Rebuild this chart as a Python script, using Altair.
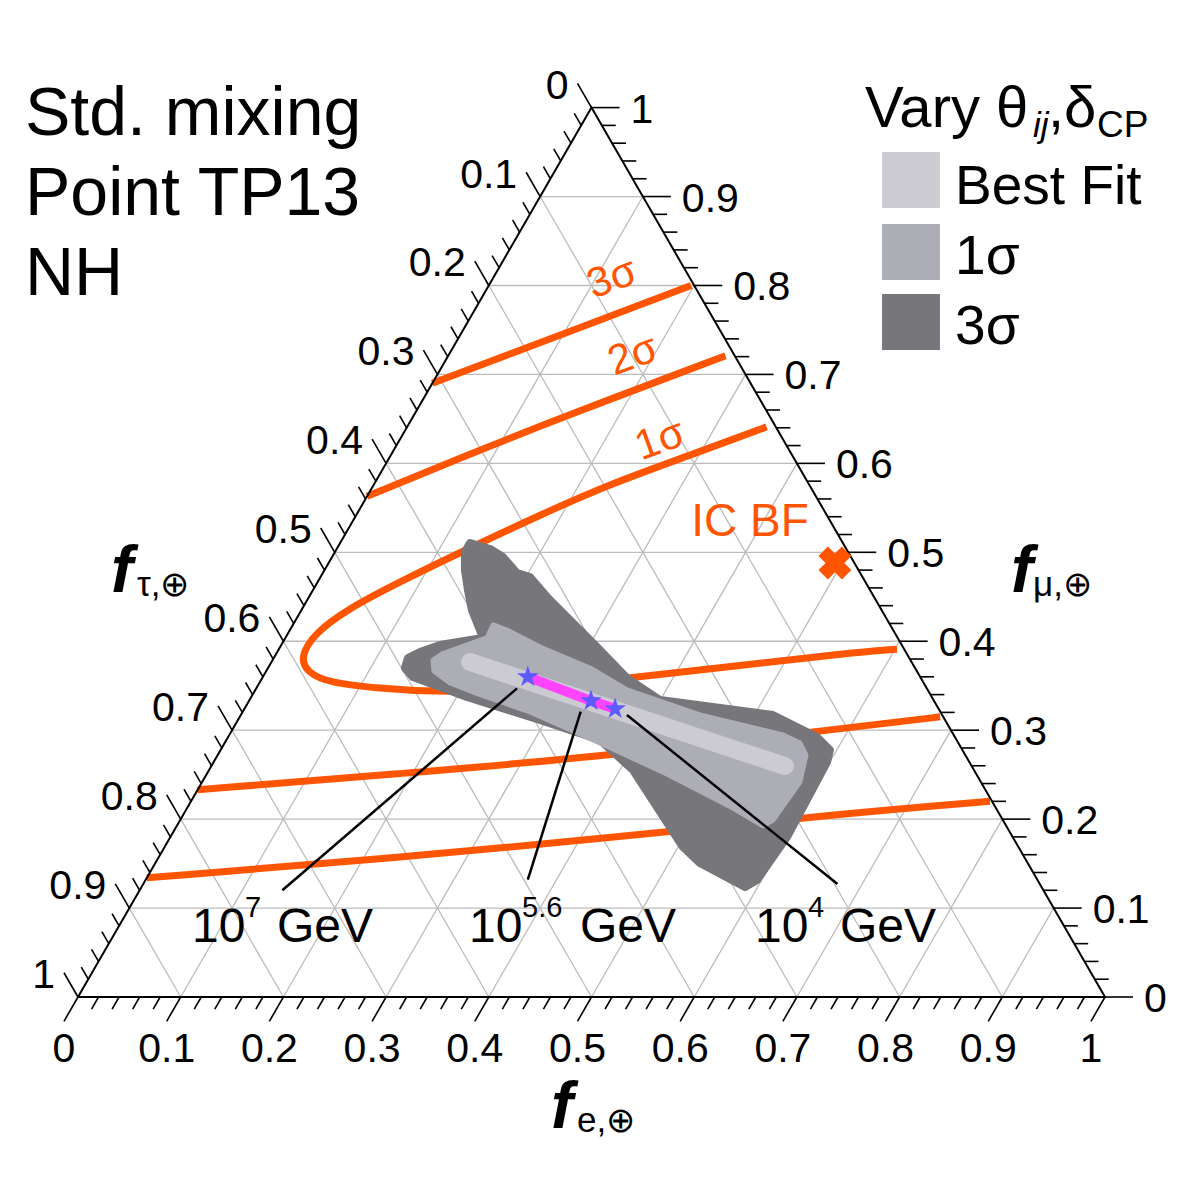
import altair as alt
import pandas as pd

# ---------------- data: ternary fractions (f_e, f_mu); f_tau = 1 - f_e - f_mu ----------------
# IceCube flavour-composition contours (orange)
s1_fe = [0.350, 0.291, 0.230, 0.179, 0.129, 0.080, 0.044, 0.026, 0.025, 0.040, 0.069, 0.120, 0.171,
         0.258, 0.367, 0.558, 0.602]
s1_fmu = [0.641, 0.609, 0.577, 0.542, 0.505, 0.467, 0.436, 0.409, 0.383, 0.365, 0.353, 0.347, 0.343,
          0.345, 0.360, 0.387, 0.391]
s2u_fe = [0.0, 0.069, 0.144, 0.270]
s2u_fmu = [0.563, 0.606, 0.651, 0.721]
s2l_fe = [0.0, 0.188, 0.373, 0.601, 0.682]
s2l_fmu = [0.233, 0.251, 0.270, 0.303, 0.315]
s3u_fe = [0.0, 0.097, 0.197]
s3u_fmu = [0.690, 0.744, 0.800]
s3l_fe = [0.0, 0.235, 0.420, 0.648, 0.778]
s3l_fmu = [0.134, 0.157, 0.178, 0.207, 0.220]

# regions reachable varying theta_ij, delta_CP
dark_fe = [0.1265, 0.1493, 0.1664, 0.1891, 0.2040, 0.2318, 0.2671, 0.3086, 0.3552, 0.3997, 0.5181, 0.5734,
           0.5933, 0.5972, 0.6004, 0.5953, 0.5876, 0.5302, 0.5047, 0.4128, 0.3638, 0.2941, 0.2101, 0.1782,
           0.1463, 0.1334, 0.1307, 0.1390, 0.1546, 0.1925, 0.1851, 0.1660, 0.1509, 0.1367, 0.1266]
dark_fmu = [0.5105, 0.5037, 0.4947, 0.4767, 0.4722, 0.4498, 0.4239, 0.3935, 0.3587, 0.3339, 0.3171, 0.2923,
            0.2777, 0.2642, 0.1799, 0.1316, 0.1237, 0.1507, 0.1687, 0.2552, 0.2890, 0.3115, 0.3373, 0.3486,
            0.3598, 0.3699, 0.3812, 0.3879, 0.3958, 0.4037, 0.4126, 0.4351, 0.4576, 0.4801, 0.5004]
med_fe = [0.1950, 0.2114, 0.2531, 0.3135, 0.3620, 0.4470, 0.5392, 0.5602, 0.5728, 0.5821, 0.5772, 0.5709,
          0.5315, 0.4481, 0.3655, 0.2799, 0.2131, 0.1857, 0.1633, 0.1562, 0.1616, 0.1963]
med_fmu = [0.4183, 0.4126, 0.3935, 0.3699, 0.3452, 0.3171, 0.2946, 0.2856, 0.2721, 0.2417, 0.1990, 0.1923,
           0.2125, 0.2507, 0.2856, 0.3205, 0.3429, 0.3531, 0.3665, 0.3789, 0.3857, 0.4037]
bf_fe = [0.1934, 0.5585]
bf_fmu = [0.3767, 0.2597]

# flavour ratios at source energies (stars)
star_label = ["10^7 GeV", "10^5.6 GeV", "10^4 GeV"]
star_fe = [0.258, 0.333, 0.361]
star_fmu = [0.360, 0.333, 0.324]

# IceCube best fit
icbf_fe = [0.493]
icbf_fmu = [0.488]

# annotation leader lines (from star to label), ternary
lead_fe1 = [0.254, 0.329, 0.376]
lead_fmu1 = [0.347, 0.321, 0.317]
lead_fe2 = [0.139, 0.372, 0.676]
lead_fmu2 = [0.120, 0.132, 0.127]

tick_values = [i / 50 for i in range(51)]
label_values = [i / 10 for i in range(11)]
label_text = ["0", "0.1", "0.2", "0.3", "0.4", "0.5", "0.6", "0.7", "0.8", "0.9", "1"]

legend_names = ["Best Fit", "1\u03c3", "3\u03c3"]
legend_colors = ["#cbcbd1", "#adadb6", "#76767b"]

ORANGE = "#ff5500"
FONT = "Liberation Sans"
SQ = 3 ** 0.5 / 2

xs = alt.Scale(domain=[-0.068160, 1.070107], nice=False, zero=False)
ys = alt.Scale(domain=[-0.175259, 0.963008], nice=False, zero=False)


def X(f="x"):
    return alt.X(f"{f}:Q", scale=xs, axis=None)


def Y(f="y"):
    return alt.Y(f"{f}:Q", scale=ys, axis=None)


CALC = dict(x="datum.fe + datum.fmu / 2", y="datum.fmu * sqrt(3) / 2")
CALC2 = dict(x="datum.fe1 + datum.fmu1 / 2", y="datum.fmu1 * sqrt(3) / 2",
             x2="datum.fe2 + datum.fmu2 / 2", y2="datum.fmu2 * sqrt(3) / 2")


def path_df(fe, fmu, name="p"):
    return pd.DataFrame({"fe": fe, "fmu": fmu, "i": list(range(len(fe))), "g": name})


layers = []

# ---- grid lines
grid = []
for k in range(1, 10):
    v = k / 10
    grid.append(dict(fe1=v, fmu1=0.0, fe2=v, fmu2=1 - v))
    grid.append(dict(fe1=0.0, fmu1=v, fe2=1 - v, fmu2=v))
    grid.append(dict(fe1=0.0, fmu1=1 - v, fe2=1 - v, fmu2=0.0))
layers.append(alt.Chart(pd.DataFrame(grid)).transform_calculate(**CALC2).mark_rule(
    color="#bcbcbc", strokeWidth=1.3).encode(x=X(), y=Y(), x2="x2:Q", y2="y2:Q"))

# ---- orange contours
cont = pd.concat([path_df(s1_fe, s1_fmu, "s1"), path_df(s2u_fe, s2u_fmu, "s2u"),
                  path_df(s2l_fe, s2l_fmu, "s2l"), path_df(s3u_fe, s3u_fmu, "s3u"),
                  path_df(s3l_fe, s3l_fmu, "s3l")])
layers.append(alt.Chart(cont).transform_calculate(**CALC).mark_line(
    color=ORANGE, strokeWidth=7, interpolate="basis").encode(
    x=X(), y=Y(), detail="g:N", order="i:Q"))

# ---- gray regions
layers.append(alt.Chart(path_df(dark_fe, dark_fmu)).transform_calculate(**CALC).mark_line(
    fill=legend_colors[2], stroke=legend_colors[2], strokeWidth=8, strokeJoin="round",
    interpolate="linear-closed").encode(x=X(), y=Y(), order="i:Q"))
layers.append(alt.Chart(path_df(med_fe, med_fmu)).transform_calculate(**CALC).mark_line(
    fill=legend_colors[1], stroke=legend_colors[1], strokeWidth=5, strokeJoin="round",
    interpolate="linear-closed").encode(x=X(), y=Y(), order="i:Q"))
layers.append(alt.Chart(path_df(bf_fe, bf_fmu)).transform_calculate(**CALC).mark_line(
    color=legend_colors[0], strokeWidth=18, strokeCap="round").encode(x=X(), y=Y(), order="i:Q"))

# ---- triangle frame
frame = path_df([0, 1, 0, 0], [0, 0, 1, 0])
layers.append(alt.Chart(frame).transform_calculate(**CALC).mark_line(
    color="black", strokeWidth=2).encode(x=X(), y=Y(), order="i:Q"))

# ---- ticks
ticks = []
for i, v in enumerate(tick_values):
    L = 0.0273 if i % 5 == 0 else 0.0136
    ticks.append(dict(x=v, y=0.0, x2=v - 0.5 * L, y2=-SQ * L))                       # f_e (bottom)
    ticks.append(dict(x=1 - v / 2, y=v * SQ, x2=1 - v / 2 + L, y2=v * SQ))           # f_mu (right)
    ticks.append(dict(x=(1 - v) / 2, y=(1 - v) * SQ, x2=(1 - v) / 2 - 0.5 * L,
                      y2=(1 - v) * SQ + SQ * L))                                      # f_tau (left)
layers.append(alt.Chart(pd.DataFrame(ticks)).mark_rule(color="black", strokeWidth=1.6).encode(
    x=X(), y=Y(), x2="x2:Q", y2="y2:Q"))

# ---- tick labels
bl = pd.DataFrame({"x": label_values, "y": [0.0] * 11, "t": label_text})
rl = pd.DataFrame({"x": [1 - v / 2 for v in label_values], "y": [v * SQ for v in label_values], "t": label_text})
ll = pd.DataFrame({"x": [(1 - v) / 2 for v in label_values], "y": [(1 - v) * SQ for v in label_values], "t": label_text})
layers.append(alt.Chart(bl).mark_text(font=FONT, fontSize=41, align="center", baseline="middle",
                                      dx=-14, dy=53).encode(x=X(), y=Y(), text="t:N"))
layers.append(alt.Chart(rl).mark_text(font=FONT, fontSize=41, align="left", baseline="middle",
                                      dx=39, dy=3).encode(x=X(), y=Y(), text="t:N"))
layers.append(alt.Chart(ll).mark_text(font=FONT, fontSize=41, align="right", baseline="middle",
                                      dx=-23, dy=-21).encode(x=X(), y=Y(), text="t:N"))

# ---- leader lines
lead = pd.DataFrame({"fe1": lead_fe1, "fmu1": lead_fmu1, "fe2": lead_fe2, "fmu2": lead_fmu2})
layers.append(alt.Chart(lead).transform_calculate(**CALC2).mark_rule(color="black", strokeWidth=2.5).encode(
    x=X(), y=Y(), x2="x2:Q", y2="y2:Q"))

# ---- flavour path + stars
stars = pd.DataFrame({"fe": star_fe, "fmu": star_fmu, "i": [0, 1, 2], "lab": star_label})
layers.append(alt.Chart(stars).transform_calculate(**CALC).mark_line(
    color="#ff44ff", strokeWidth=10).encode(x=X(), y=Y(), order="i:Q"))
STAR = ("M0,-1L0.2245,-0.309L0.9511,-0.309L0.3633,0.118L0.5878,0.809L0,0.382L-0.5878,0.809"
        "L-0.3633,0.118L-0.9511,-0.309L-0.2245,-0.309Z")
layers.append(alt.Chart(stars).transform_calculate(**CALC).mark_point(
    shape=STAR, filled=True, size=520, color="#5b5bff", opacity=1).encode(x=X(), y=Y()))

# ---- IceCube best fit marker
ic = pd.DataFrame({"fe": icbf_fe, "fmu": icbf_fmu})
layers.append(alt.Chart(ic).transform_calculate(**CALC).mark_point(
    shape="cross", angle=45, filled=True, size=1100, color=ORANGE, opacity=1).encode(x=X(), y=Y()))

# ---- legend swatches
leg = pd.DataFrame({"x": [0.7829] * 3, "x2": [0.8393] * 3, "y": [0.8228, 0.7527, 0.6845],
                    "y2": [0.7683, 0.6982, 0.6300], "c": legend_colors})
layers.append(alt.Chart(leg).mark_rect().encode(x=X(), y=Y(), x2="x2:Q", y2="y2:Q",
                                                color=alt.Color("c:N", scale=None)))

# ---- annotation texts: text, x, y, size, align, baseline, italic, bold, color, angle
notes = [
    ("Std. mixing", -0.0516, 0.8393, 68, "left", "alphabetic", False, False, "black", 0),
    ("Point TP13", -0.0516, 0.7614, 68, "left", "alphabetic", False, False, "black", 0),
    ("NH", -0.0516, 0.6835, 68, "left", "alphabetic", False, False, "black", 0),
    ("Vary \u03b8", 0.7663, 0.8471, 58, "left", "alphabetic", False, False, "black", 0),
    ("ij", 0.9299, 0.8374, 35, "left", "alphabetic", True, False, "black", 0),
    (",\u03b4", 0.9445, 0.8471, 58, "left", "alphabetic", False, False, "black", 0),
    ("CP", 0.9922, 0.8374, 37, "left", "alphabetic", False, False, "black", 0),
    ("Best Fit", 0.8540, 0.7722, 55, "left", "alphabetic", False, False, "black", 0),
    ("1\u03c3", 0.8540, 0.7040, 55, "left", "alphabetic", False, False, "black", 0),
    ("3\u03c3", 0.8540, 0.6358, 55, "left", "alphabetic", False, False, "black", 0),
    ("10", 0.1110, 0.0536, 48, "left", "alphabetic", False, False, "black", 0),
    ("7", 0.1627, 0.0779, 29, "left", "alphabetic", False, False, "black", 0),
    ("GeV", 0.1938, 0.0536, 48, "left", "alphabetic", False, False, "black", 0),
    ("10", 0.3807, 0.0536, 48, "left", "alphabetic", False, False, "black", 0),
    ("5.6", 0.4324, 0.0779, 29, "left", "alphabetic", False, False, "black", 0),
    ("GeV", 0.4888, 0.0536, 48, "left", "alphabetic", False, False, "black", 0),
    ("10", 0.6592, 0.0536, 48, "left", "alphabetic", False, False, "black", 0),
    ("4", 0.7109, 0.0779, 29, "left", "alphabetic", False, False, "black", 0),
    ("GeV", 0.7420, 0.0536, 48, "left", "alphabetic", False, False, "black", 0),
    ("f", 0.0322, 0.3944, 66, "left", "alphabetic", True, True, "black", 0),
    ("\u03c4,\u2295", 0.0574, 0.3904, 35, "left", "alphabetic", False, False, "black", 0),
    ("f", 0.9085, 0.3944, 66, "left", "alphabetic", True, True, "black", 0),
    ("\u03bc,\u2295", 0.9299, 0.3904, 35, "left", "alphabetic", False, False, "black", 0),
    ("f", 0.4606, -0.1276, 66, "left", "alphabetic", True, True, "black", 0),
    ("e,\u2295", 0.4859, -0.1315, 35, "left", "alphabetic", False, False, "black", 0),
    ("3\u03c3", 0.5200, 0.7001, 42, "center", "middle", False, False, ORANGE, 340),
    ("2\u03c3", 0.5404, 0.6251, 42, "center", "middle", False, False, ORANGE, 340),
    ("1\u03c3", 0.5667, 0.5424, 42, "center", "middle", False, False, ORANGE, 340),
    ("IC BF", 0.6543, 0.4625, 46, "center", "middle", False, False, ORANGE, 0),
]
ndf = pd.DataFrame(notes, columns=["t", "x", "y", "s", "align", "base", "it", "bold", "col", "a"])
for (align, base, it, bold, col), g in ndf.groupby(["align", "base", "it", "bold", "col"]):
    layers.append(alt.Chart(g.reset_index(drop=True)).mark_text(
        font=FONT, align=align, baseline=base, fontStyle="italic" if it else "normal",
        fontWeight="bold" if bold else "normal", color=col).encode(
        x=X(), y=Y(), text="t:N", size=alt.Size("s:Q", scale=None), angle=alt.Angle("a:Q", scale=None)))

chart = alt.layer(*layers).properties(
    width=1169, height=1169, padding=0, autosize=alt.AutoSizeParams(type="none"),
    background="white").configure_view(strokeWidth=0)

chart.save("out.html", embed_options={"renderer": "svg", "actions": False})
